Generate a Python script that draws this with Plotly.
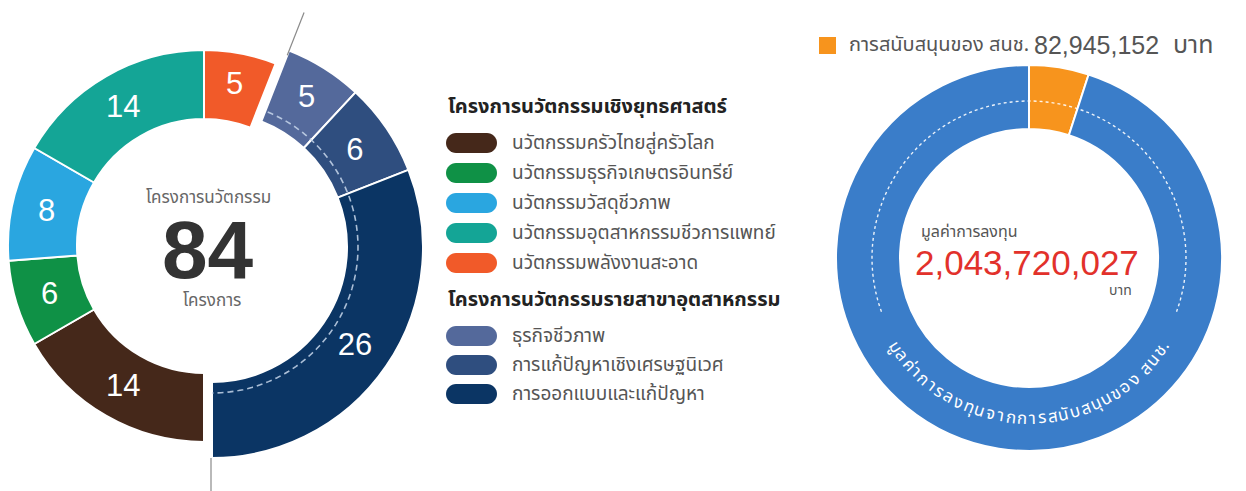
import math
import plotly.graph_objects as go

W, H = 1246, 491

# ---------------- data ----------------
group_titles = ["โครงการนวัตกรรมเชิงยุทธศาสตร์", "โครงการนวัตกรรมรายสาขาอุตสาหกรรม"]

strategic_labels = ["นวัตกรรมครัวไทยสู่ครัวโลก", "นวัตกรรมธุรกิจเกษตรอินทรีย์", "นวัตกรรมวัสดุชีวภาพ",
                    "นวัตกรรมอุตสาหกรรมชีวการแพทย์", "นวัตกรรมพลังงานสะอาด"]
strategic_values = [14, 6, 8, 14, 5]
strategic_colors = ["#45281a", "#0f9146", "#2aa6e0", "#14a596", "#f15a29"]

sector_labels = ["ธุรกิจชีวภาพ", "การแก้ปัญหาเชิงเศรษฐนิเวศ", "การออกแบบและแก้ปัญหา"]
sector_values = [5, 6, 26]
sector_colors = ["#54699b", "#2f4e7f", "#0b3564"]

center_title = "โครงการนวัตกรรม"
center_unit = "โครงการ"

invest_labels = ["การสนับสนุนของ สนช.", "มูลค่าการลงทุนจากการสนับสนุนของ สนช."]
invest_share = [5.0, 95.0]          # ring share as drawn in the picture (%)
invest_colors = ["#f7941d", "#3a7dc9"]
support_amount = "82,945,152"
invest_total = "2,043,720,027"
invest_title = "มูลค่าการลงทุน"
baht = "บาท"

THAI = "Noto Sans Thai, Sarabun, Kanit, Loma, Garuda, Noto Sans, sans-serif"
NUM = "Liberation Sans, Arial, sans-serif"

# ---------------- geometry (px) ----------------
L1 = dict(cx=204, cy=246, R=196, r=127)   # strategic half
L2 = dict(cx=212, cy=247, R=211, r=135)   # sector half
RD = dict(cx=1029, cy=258, R=193, r=129)  # investment donut


def dom(g):
    return dict(x=[(g["cx"] - g["R"]) / W, (g["cx"] + g["R"]) / W],
                y=[1 - (g["cy"] + g["R"]) / H, 1 - (g["cy"] - g["R"]) / H])


def pt(cx, cy, r, a):
    a = math.radians(a)
    return cx + r * math.sin(a), cy - r * math.cos(a)


def arc_path(cx, cy, r, a0, a1, n=90):
    pts = [pt(cx, cy, r, a0 + (a1 - a0) * i / n) for i in range(n + 1)]
    return "M" + " L".join(f"{x:.2f},{y:.2f}" for x, y in pts)


def pill_path(x0, yc, w, h, n=16):
    rr = h / 2
    pts = []
    for i in range(n + 1):
        a = math.pi / 2 - math.pi * i / n
        pts.append((x0 + w - rr + rr * math.cos(a), yc - rr * math.sin(a)))
    for i in range(n + 1):
        a = -math.pi / 2 - math.pi * i / n
        pts.append((x0 + rr + rr * math.cos(a), yc - rr * math.sin(a)))
    return "M" + " L".join(f"{x:.2f},{y:.2f}" for x, y in pts) + " Z"


total_projects = sum(strategic_values) + sum(sector_values)
split_angle = 360 * sum(strategic_values) / total_projects - 180  # angle where sector half starts

fig = go.Figure()

# invisible trace that creates a pixel-scaled cartesian frame for decorations
fig.add_trace(go.Scatter(x=[0, W], y=[0, H], mode="markers", marker=dict(opacity=0),
                         hoverinfo="skip", showlegend=False))

# strategic half
fig.add_trace(go.Pie(
    values=strategic_values + [sum(sector_values)],
    labels=strategic_labels + ["_rest"],
    text=[str(v) for v in strategic_values] + [""],
    textinfo="text", textposition="inside", insidetextorientation="horizontal",
    insidetextfont=dict(family=NUM, size=31, color="white"),
    marker=dict(colors=strategic_colors + ["rgba(0,0,0,0)"],
                line=dict(color=["white"] * 5 + ["rgba(0,0,0,0)"], width=[2] * 5 + [0])),
    sort=False, direction="clockwise", rotation=180, hole=L1["r"] / L1["R"],
    domain=dom(L1), showlegend=False, hoverinfo="skip",
))
# sector half
fig.add_trace(go.Pie(
    values=[sum(strategic_values)] + sector_values,
    labels=["_rest2"] + sector_labels,
    text=[""] + [str(v) for v in sector_values],
    textinfo="text", textposition="inside", insidetextorientation="horizontal",
    insidetextfont=dict(family=NUM, size=31, color="white"),
    marker=dict(colors=["rgba(0,0,0,0)"] + sector_colors,
                line=dict(color=["rgba(0,0,0,0)"] + ["white"] * 3, width=[0] + [2] * 3)),
    sort=False, direction="clockwise", rotation=180, hole=L2["r"] / L2["R"],
    domain=dom(L2), showlegend=False, hoverinfo="skip",
))
# investment donut
fig.add_trace(go.Pie(
    values=invest_share, labels=invest_labels, textinfo="none",
    marker=dict(colors=invest_colors, line=dict(color="white", width=2)),
    sort=False, direction="clockwise", rotation=0, hole=RD["r"] / RD["R"],
    domain=dom(RD), showlegend=False, hoverinfo="skip",
))

XY = dict(xref="x", yref="y")
shapes = []
# separator lines
x0, y0 = pt(L2["cx"], L2["cy"], 206, split_angle)
x1, y1 = pt(L2["cx"], L2["cy"], 252, split_angle)
shapes.append(dict(type="line", x0=x0, y0=y0, x1=x1, y1=y1, layer="above",
                   line=dict(color="#8a8a8a", width=1.2), **XY))
shapes.append(dict(type="line", x0=L2["cx"] - 1, y0=L2["cy"] + L2["R"], x1=L2["cx"] - 1, y1=H, layer="above",
                   line=dict(color="#8a8a8a", width=1.2), **XY))
# dashed arcs
shapes.append(dict(type="path", path=arc_path(L2["cx"], L2["cy"], 146, split_angle + 1, 180), layer="above",
                   line=dict(color="rgba(200,215,235,0.85)", width=1.6, dash="6px,4px"), **XY))
shapes.append(dict(type="path", path=arc_path(RD["cx"], RD["cy"], 157, -110, 110, 140), layer="above",
                   line=dict(color="rgba(255,255,255,0.9)", width=1.4, dash="3px,3px"), **XY))

annotations = []
# legend
legend_rows = [("title", group_titles[0], None)]
legend_rows += [("item", l, c) for l, c in zip(strategic_labels, strategic_colors)]
legend_rows += [("title", group_titles[1], None)]
legend_rows += [("item", l, c) for l, c in zip(sector_labels, sector_colors)]
ys = [107, 143, 173, 203, 233, 263, 300, 336, 365, 394]
for (kind, label, color), y in zip(legend_rows, ys):
    if kind == "title":
        annotations.append(dict(x=446, y=y, text=f"<b>{label}</b>", showarrow=False, xanchor="left",
                                yanchor="middle", font=dict(family=THAI, size=20, color="#222222"), **XY))
    else:
        shapes.append(dict(type="path", path=pill_path(446, y, 51, 20), fillcolor=color,
                           line=dict(width=0), layer="above", **XY))
        annotations.append(dict(x=510, y=y, text=label, showarrow=False, xanchor="left", yanchor="middle",
                                font=dict(family=THAI, size=19, color="#555555"), **XY))

# centre of project donut
annotations.append(dict(x=208, y=198, text=center_title, showarrow=False,
                        font=dict(family=THAI, size=17, color="#666666"), **XY))
annotations.append(dict(x=208, y=249, text=f"<b>{total_projects}</b>", showarrow=False, height=66,
                        font=dict(family=NUM, size=82, color="#333333"), **XY))
annotations.append(dict(x=212, y=301, text=center_unit, showarrow=False,
                        font=dict(family=THAI, size=17, color="#666666"), **XY))

# investment legend
shapes.append(dict(type="rect", x0=819, y0=37, x1=836, y1=54, fillcolor=invest_colors[0], line=dict(width=0),
                   layer="above", **XY))
annotations.append(dict(x=847, y=45, text=invest_labels[0], showarrow=False,
                        xanchor="left", yanchor="middle", font=dict(family=THAI, size=20, color="#555555"), **XY))
annotations.append(dict(x=1032, y=45, text=support_amount, showarrow=False,
                        xanchor="left", yanchor="middle", font=dict(family=NUM, size=25, color="#555555"), **XY))
annotations.append(dict(x=1171, y=45, text=baht, showarrow=False,
                        xanchor="left", yanchor="middle", font=dict(family=THAI, size=25, color="#555555"), **XY))

# centre of investment donut
annotations.append(dict(x=919, y=232, text=invest_title, showarrow=False, xanchor="left",
                        font=dict(family=THAI, size=16, color="#555555"), **XY))
annotations.append(dict(x=1027, y=262, text=invest_total, showarrow=False,
                        font=dict(family=NUM, size=35, color="#e2312b"), **XY))
annotations.append(dict(x=1134, y=290, text=baht, showarrow=False, xanchor="right",
                        font=dict(family=THAI, size=14, color="#555555"), **XY))

# curved label along the bottom of investment donut
COMB = set(chr(c) for c in [0x0E31] + list(range(0x0E34, 0x0E3B)) + list(range(0x0E47, 0x0E4F)))
clusters = []
for ch in invest_labels[1]:
    if ch in COMB and clusters:
        clusters[-1] += ch
    else:
        clusters.append(ch)
fs = 17
widths = []
for c in clusters:
    b = c[0]
    if b == " ":
        widths.append(0.45)
    elif b == ".":
        widths.append(0.45)
    elif b in "าร":
        widths.append(0.85)
    else:
        widths.append(1.0)
rt = 161
span = 117.0  # angular extent of the label on the ring (deg)
tot = sum(widths)
acc = 0
for c, w in zip(clusters, widths):
    mid = acc + w / 2
    acc += w
    # angle clockwise from 12 o'clock; text runs left->right across the bottom
    a = 180 + span / 2 - span * mid / tot
    x, y = pt(RD["cx"], RD["cy"], rt, a)
    annotations.append(dict(x=x, y=y, text=c, showarrow=False, textangle=a - 180,
                            xanchor="center", yanchor="middle",
                            font=dict(family=THAI, size=fs, color="white"), **XY))

fig.update_layout(
    width=W, height=H, margin=dict(l=0, r=0, t=0, b=0, pad=0),
    paper_bgcolor="white", plot_bgcolor="rgba(0,0,0,0)",
    xaxis=dict(range=[0, W], visible=False, fixedrange=True),
    yaxis=dict(range=[H, 0], visible=False, fixedrange=True),
    shapes=shapes, annotations=annotations, showlegend=False,
)
fig.write_html("out.html", config={"displayModeBar": False},
               post_script="document.body.style.margin='0';document.body.style.overflow='hidden';")
